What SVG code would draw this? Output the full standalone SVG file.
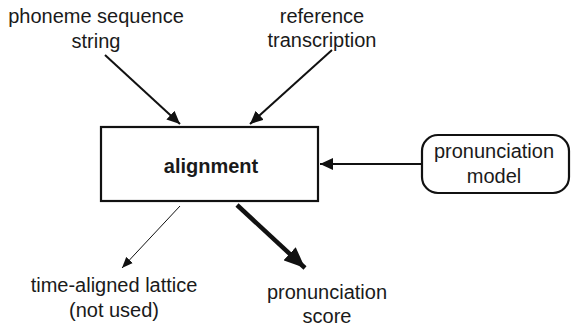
<svg xmlns="http://www.w3.org/2000/svg" width="571" height="328" viewBox="0 0 571 328">
  <style>
    text { font-family: "Liberation Sans", Arial, Helvetica, sans-serif; font-size: 20px; fill: #1a1a1a; text-anchor: middle; }
    .bold { font-weight: bold; }
    .box { fill: #fff; stroke: #111; stroke-width: 2.2; }
    .edge { stroke: #111; fill: none; }
  </style>
  <defs>
    <marker id="head" markerUnits="userSpaceOnUse" markerWidth="14" markerHeight="12" refX="13" refY="6" orient="auto">
      <path d="M0,0 L13,6 L0,12 Z" fill="#111"/>
    </marker>
    <marker id="head-small" markerUnits="userSpaceOnUse" markerWidth="12" markerHeight="10" refX="11" refY="5" orient="auto">
      <path d="M0,0.5 L11,5 L0,9.5 Z" fill="#111"/>
    </marker>
    <marker id="head-big" markerUnits="userSpaceOnUse" markerWidth="22" markerHeight="18" refX="21" refY="9" orient="auto">
      <path d="M0,0 L21,9 L0,18 Z" fill="#111"/>
    </marker>
  </defs>

  <g id="connectors">
    <line class="edge" x1="105" y1="55" x2="180" y2="124" stroke-width="2" marker-end="url(#head)"/>
    <line class="edge" x1="332" y1="50" x2="250" y2="124" stroke-width="2" marker-end="url(#head)"/>
    <line class="edge" x1="422" y1="164" x2="320" y2="164" stroke-width="2" marker-end="url(#head)"/>
    <line class="edge" x1="180" y1="206" x2="122" y2="268" stroke-width="1" marker-end="url(#head-small)"/>
    <line class="edge" x1="237" y1="205" x2="305" y2="268" stroke-width="4.5" marker-end="url(#head-big)"/>
  </g>

  <g id="phoneme-sequence">
    <text x="96" y="23">phoneme sequence</text>
    <text x="96" y="48">string</text>
  </g>

  <g id="reference-transcription">
    <text x="322" y="23">reference</text>
    <text x="322" y="47">transcription</text>
  </g>

  <g id="alignment">
    <rect class="box" x="101" y="127" width="217" height="74"/>
    <text class="bold" x="211" y="173">alignment</text>
  </g>

  <g id="pronunciation-model">
    <rect class="box" x="422" y="135" width="147" height="58" rx="16" ry="16"/>
    <text x="494" y="158">pronunciation</text>
    <text x="494" y="183">model</text>
  </g>

  <g id="time-aligned-lattice">
    <text x="114" y="292">time-aligned lattice</text>
    <text x="114" y="317">(not used)</text>
  </g>

  <g id="pronunciation-score">
    <text x="327" y="299">pronunciation</text>
    <text x="327" y="323">score</text>
  </g>
</svg>
